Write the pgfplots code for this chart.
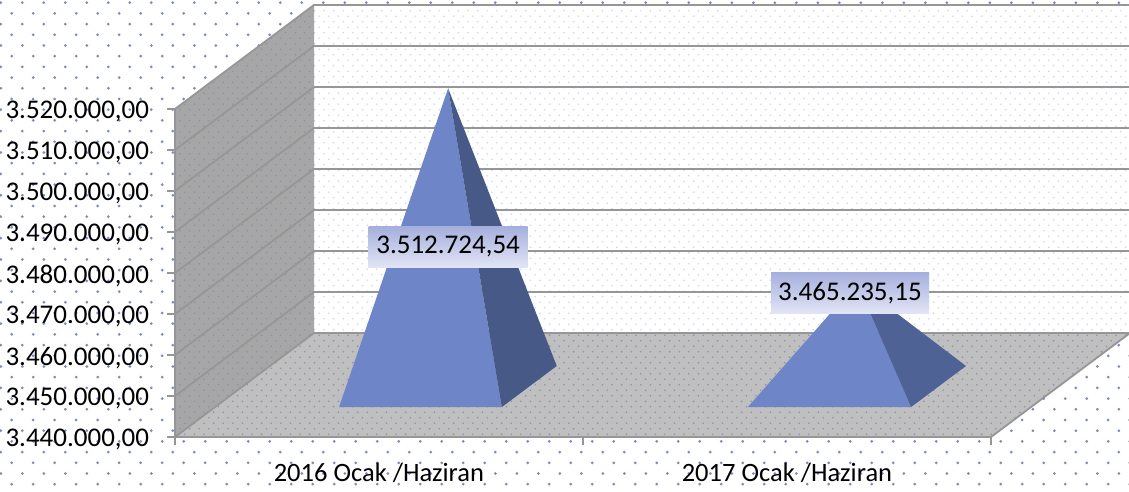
\documentclass[border=0pt]{standalone}
\usepackage{fontspec}
\setmainfont{Carlito}
\usepackage{pgfplots}
\pgfplotsset{compat=1.18}
\usetikzlibrary{patterns,backgrounds}
\definecolor{dotc}{RGB}{125,135,205}
\definecolor{finec}{RGB}{208,214,240}
\definecolor{finedark}{RGB}{140,145,175}
\definecolor{wallc}{RGB}{166,166,166}
\definecolor{floorc}{RGB}{191,191,191}
\definecolor{linec}{RGB}{150,150,150}
\definecolor{frontc}{RGB}{110,134,200}
\definecolor{sideA}{RGB}{70,89,135}
\definecolor{sideB}{RGB}{79,98,150}
\pgfdeclarepatternformonly{finedots}{\pgfqpoint{-1pt}{-1pt}}{\pgfqpoint{10.6pt}{12pt}}{\pgfqpoint{9.6pt}{11pt}}{%
  \pgfpathcircle{\pgfqpoint{2.4pt}{2.75pt}}{0.9pt}%
  \pgfpathcircle{\pgfqpoint{7.2pt}{8.25pt}}{0.9pt}%
  \pgfusepath{fill}}
\begin{document}
\begin{tikzpicture}[x=1pt,y=1pt]
\begin{axis}[
  x={(408pt,0pt)}, y={(139pt,104pt)}, z={(0pt,0.00411pt)},
  xmin=0, xmax=2, ymin=0, ymax=1, zmin=3440000, zmax=3520000,
  clip=false,
  axis line style={draw=none},
  scaled z ticks=false,
  ytick=\empty,
  xtick={0.5,1.5},
  xticklabels={2016 Ocak /Haziran,2017 Ocak /Haziran},
  xticklabel style={font=\fontsize{26.5}{30}\selectfont, yshift=-18pt, xshift=13pt},
  ztick={3440000,3450000,3460000,3470000,3480000,3490000,3500000,3510000,3520000},
  zticklabels={3.440.000{,}00,3.450.000{,}00,3.460.000{,}00,3.470.000{,}00,3.480.000{,}00,3.490.000{,}00,3.500.000{,}00,3.510.000{,}00,3.520.000{,}00},
  zticklabel style={font=\fontsize{27}{30}\selectfont, anchor=east, xshift=-16pt, yshift=2pt},
  tick style={draw=none},
  major tick length=8pt,
  tick align=outside,
  xtick pos=left, ztick pos=left,
]
\coordinate (o) at (axis cs:0,0,3440000);
% walls and floor
\fill[white] (axis cs:0,1,3440000) -- (axis cs:2,1,3440000) -- (axis cs:2,1,3520000) -- (axis cs:0,1,3520000) -- cycle;
\fill[pattern=finedots, pattern color=finec] (axis cs:0,1,3440000) -- (axis cs:2,1,3440000) -- (axis cs:2,1,3520000) -- (axis cs:0,1,3520000) -- cycle;
\fill[wallc] (axis cs:0,0,3440000) -- (axis cs:0,1,3440000) -- (axis cs:0,1,3520000) -- (axis cs:0,0,3520000) -- cycle;
\fill[pattern=finedots, pattern color=finedark] (axis cs:0,0,3440000) -- (axis cs:0,1,3440000) -- (axis cs:0,1,3520000) -- (axis cs:0,0,3520000) -- cycle;
\fill[floorc] (axis cs:0,0,3440000) -- (axis cs:2,0,3440000) -- (axis cs:2,1,3440000) -- (axis cs:0,1,3440000) -- cycle;
\fill[pattern=finedots, pattern color=finedark] (axis cs:0,0,3440000) -- (axis cs:2,0,3440000) -- (axis cs:2,1,3440000) -- (axis cs:0,1,3440000) -- cycle;
% grid
\pgfplotsinvokeforeach{3450000,3460000,3470000,3480000,3490000,3500000,3510000,3520000}{
  \draw[linec, line width=1.8pt] (axis cs:0,0,#1) -- (axis cs:0,1,#1) -- (axis cs:2,1,#1);
}
\draw[linec, line width=1.8pt] (axis cs:0,0,3520000) -- (axis cs:0,0,3440000) -- (axis cs:2,0,3440000) -- (axis cs:2,1,3440000) -- (axis cs:0,1,3440000) -- (axis cs:0,0,3440000);
% ticks
\pgfplotsinvokeforeach{3440000,3450000,3460000,3470000,3480000,3490000,3500000,3510000,3520000}{
  \draw[linec, line width=1.8pt] (axis cs:0,0,#1) -- ++(-8pt,0pt);
}
\pgfplotsinvokeforeach{0,1,2}{
  \draw[linec, line width=1.8pt] (axis cs:#1,0,3440000) -- ++(0pt,-8pt);
}
% pyramid 2016
\addplot3[fill=frontc, draw=none, mark=none, forget plot] coordinates {(0.304,0.288,3440000) (0.703,0.288,3440000) (0.504,0.4855,3512724.54)};
\addplot3[fill=sideA, draw=none, mark=none, forget plot] coordinates {(0.703,0.288,3440000) (0.703,0.683,3440000) (0.504,0.4855,3512724.54)};
% pyramid 2017
\addplot3[fill=frontc, draw=none, mark=none, forget plot] coordinates {(1.306,0.288,3440000) (1.706,0.288,3440000) (1.506,0.4855,3465235.15)};
\addplot3[fill=sideB, draw=none, mark=none, forget plot] coordinates {(1.706,0.288,3440000) (1.706,0.683,3440000) (1.506,0.4855,3465235.15)};
% labels
\node[top color={rgb,255:red,165;green,175;blue,220}, bottom color={rgb,255:red,226;green,229;blue,245}, minimum width=159pt, minimum height=41pt, inner sep=0pt, font=\fontsize{27}{30}\selectfont] at (axis cs:0.504,0.4855,3474043) {3.512.724,54};
\node[top color={rgb,255:red,165;green,175;blue,220}, bottom color={rgb,255:red,226;green,229;blue,245}, minimum width=158pt, minimum height=41pt, inner sep=0pt, font=\fontsize{27}{30}\selectfont] at (axis cs:1.489,0.4855,3462857) {3.465.235,15};
\end{axis}
\begin{scope}[on background layer, shift={(o)}, shift={(-175,-55)}]
\fill[white] (0,0) rectangle (1129,492);
\fill[dotc]
  \foreach \r in {0,...,46} {
    \foreach \c in {0,...,53} {
      ({mod(\r,2)==0 ? 0.8+21.5*\c : 11.7+21.5*\c},{489.3-10.7*\r}) circle (1.5)
    }
  };
\end{scope}
\pgfresetboundingbox
\path[use as bounding box] ([shift={(-175,-55)}]o) rectangle ([shift={(954,437)}]o);
\end{tikzpicture}
\end{document}
